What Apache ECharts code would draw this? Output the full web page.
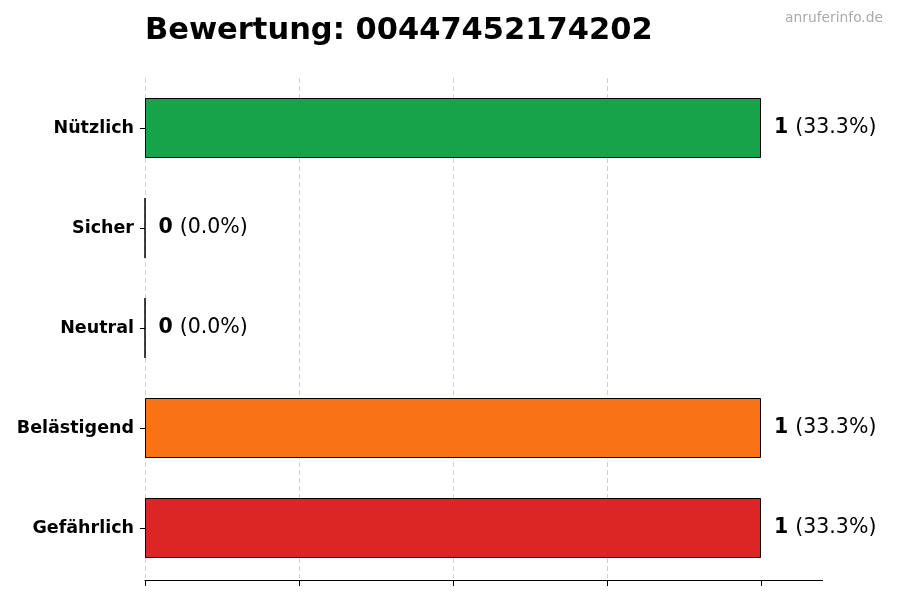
<!DOCTYPE html>
<html><head><meta charset="utf-8">
<script src="https://cdn.jsdelivr.net/npm/echarts@6/dist/echarts.min.js"></script>
<style>html,body{margin:0;padding:0;background:#fff}#c{width:900px;height:600px}</style>
</head><body><div id="c"></div>
<script>
const categories = ["Nützlich", "Sicher", "Neutral", "Belästigend", "Gefährlich"];
const values = [1, 0, 0, 1, 1];
const colors = ["#16a34a", "#22c55e", "#9ca3af", "#f97316", "#dc2626"];
const xTicks = [0, 0.25, 0.5, 0.75, 1];
const titleText = "Bewertung: 00447452174202";
const watermark = "anruferinfo.de";

const total = values.reduce((a, b) => a + b, 0);
const font = "DejaVu Sans";
const chart = echarts.init(document.getElementById('c'), null, {renderer: 'canvas'});
chart.setOption({
  animation: false,
  backgroundColor: '#fff',
  title: [
    {text: titleText, left: 140, top: 11, textStyle: {fontFamily: font, fontSize: 30.5, fontWeight: 'bold', color: '#000'}},
    {text: watermark, right: 12, top: 6, textStyle: {fontFamily: font, fontSize: 13.8, fontWeight: 'normal', color: '#aaa'}}
  ],
  grid: {left: 145, top: 78, width: 677.6, height: 500, containLabel: false},
  xAxis: {
    type: 'value', min: 0, max: 1.1, interval: 0.25, offset: 2,
    axisLine: {show: true, lineStyle: {color: '#000', width: 1}},
    axisTick: {show: true, length: 6, customValues: xTicks, lineStyle: {color: '#000'}},
    axisLabel: {show: false},
    splitLine: {show: true, showMaxLine: false, lineStyle: {color: '#cccccc', type: [5, 3], width: 0.9}}
  },
  yAxis: {
    type: 'category', data: categories, inverse: true,
    axisLine: {show: false},
    axisTick: {show: true, alignWithLabel: true, length: 5, lineStyle: {color: '#000'}},
    axisLabel: {fontFamily: font, fontSize: 17.5, fontWeight: 'bold', color: '#000', margin: 11}
  },
  series: [{
    type: 'bar', barWidth: 60,
    data: values.map((v, i) => ({value: v, itemStyle: {color: colors[i]}})),
    itemStyle: {borderColor: '#000', borderWidth: 1},
    label: {
      show: true, position: 'right', distance: 13,
      formatter: p => '{b|' + p.value + '}{n|(' + (total ? (p.value / total * 100) : 0).toFixed(1) + '%)}',
      rich: {
        b: {fontFamily: font, fontSize: 20.5, fontWeight: 'bold', color: '#000'},
        n: {fontFamily: font, fontSize: 20.5, color: '#000', padding: [0, 0, 0, 7]}
      }
    }
  }]
});
</script></body></html>
